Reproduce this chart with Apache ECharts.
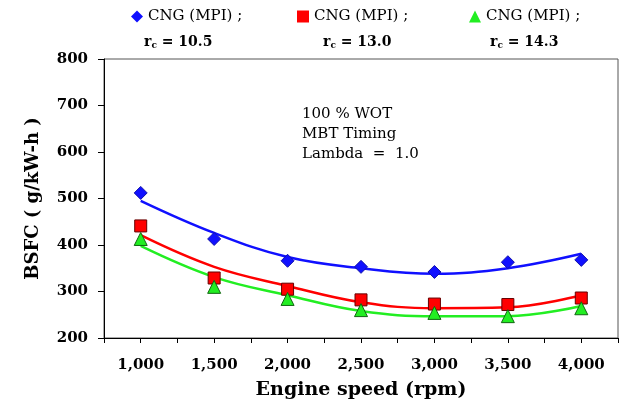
<!DOCTYPE html>
<html>
<head>
<meta charset="utf-8">
<script src="https://cdn.jsdelivr.net/npm/echarts@6/dist/echarts.min.js"></script>
<style>
  html, body { margin: 0; padding: 0; background: #fff; }
  #main { width: 621px; height: 405px; }
</style>
</head>
<body>
<div id="main"></div>
<script>
// engine speed (rpm)
const speeds = [1000, 1500, 2000, 2500, 3000, 3500, 4000]
const seriesNames = ['rc = 10.5', 'rc = 13.0', 'rc = 14.3']
const rcValues = ['10.5', '13.0', '14.3']

// measured BSFC points (g/kW-h)
const bsfc105 = [512, 413, 366, 353, 342, 363, 368]
const bsfc130 = [441, 329, 305, 282, 273, 272, 286]
const bsfc143 = [413, 310, 284, 260, 254, 247, 264]

// trend curves
const trend105 = [495, 426, 374, 350, 338, 350, 381]
const trend130 = [421, 353, 312, 277, 264, 266, 292]
const trend143 = [398, 331, 292, 258, 247, 247, 269]

const notes = ['100 % WOT', 'MBT Timing', 'Lambda  =  1.0']

const colors = ['#1010ff', '#ff0000', '#22ee22']
const symbols = ['diamond', 'rect', 'triangle']
const symbolSizes = [13, 12, 13]
const borders = ['#1010aa', '#660000', '#116611']
const points = [bsfc105, bsfc130, bsfc143]
const trends = [trend105, trend130, trend143]

const serif = 'DejaVu Serif'

const chart = echarts.init(document.getElementById('main'))

const series = []
seriesNames.forEach((name, i) => {
  series.push({
    name: name,
    type: 'line',
    smooth: 0.4,
    showSymbol: false,
    data: speeds.map((s, k) => [s, trends[i][k]]),
    lineStyle: { color: colors[i], width: 2.5 },
    itemStyle: { color: colors[i] },
    z: 2
  })
  series.push({
    name: name,
    type: 'scatter',
    symbol: symbols[i],
    symbolSize: symbolSizes[i],
    data: speeds.map((s, k) => [s, points[i][k]]),
    itemStyle: { color: colors[i], borderColor: borders[i], borderWidth: 1, opacity: 1 },
    z: 3
  })
})

const legendLeft = [126, 292, 464]
const subLeft = [144, 323, 490]

const option = {
  animation: false,
  grid: {
    left: 104,
    right: 3,
    top: 59,
    bottom: 67,
    show: true,
    borderColor: '#555',
    borderWidth: 1
  },
  legend: seriesNames.map((name, i) => ({
    data: [{ name: name, icon: symbols[i] }],
    left: legendLeft[i],
    top: 4,
    itemWidth: 12,
    itemHeight: 12,
    itemGap: 0,
    formatter: () => 'CNG (MPI) ;',
    textStyle: { fontFamily: serif, fontSize: 15, color: '#000' },
    selectedMode: false
  })),
  graphic: rcValues.map((v, i) => ({
    type: 'text',
    left: subLeft[i],
    top: 35,
    style: {
      text: '{r|r}{c|c}{n| = ' + v + '}',
      rich: {
        r: { fontFamily: serif, fontSize: 14, fontWeight: 'bold', fill: '#000' },
        c: { fontFamily: serif, fontSize: 9, fontWeight: 'bold', fill: '#000', padding: [8, 0, 0, 0] },
        n: { fontFamily: serif, fontSize: 14, fontWeight: 'bold', fill: '#000' }
      }
    }
  })).concat([{
    type: 'text',
    left: 302,
    top: 104,
    style: {
      text: notes.join('\n'),
      fontFamily: serif,
      fontSize: 15,
      lineHeight: 20,
      fill: '#000'
    }
  }]),
  xAxis: {
    type: 'value',
    min: 750,
    max: 4250,
    interval: 250,
    name: 'Engine speed (rpm)',
    nameLocation: 'middle',
    nameGap: 43,
    nameTextStyle: { fontFamily: serif, fontSize: 19, fontWeight: 'bold', color: '#000' },
    axisLine: { lineStyle: { color: '#000', width: 1 } },
    axisTick: { show: true, length: 5, lineStyle: { color: '#000' } },
    splitLine: { show: false },
    axisLabel: {
      margin: 20,
      fontFamily: serif,
      fontSize: 15,
      fontWeight: 'bold',
      color: '#000',
      formatter: v => (v % 500 === 0 && v >= 1000 && v <= 4000) ? v.toLocaleString('en-US') : ''
    }
  },
  yAxis: {
    type: 'value',
    min: 200,
    max: 800,
    interval: 100,
    name: 'BSFC ( g/kW-h )',
    nameLocation: 'middle',
    nameGap: 62,
    nameTextStyle: { fontFamily: serif, fontSize: 18, fontWeight: 'bold', color: '#000' },
    axisLine: { show: true, lineStyle: { color: '#000', width: 1 } },
    axisTick: { show: true, length: 6, lineStyle: { color: '#000' } },
    splitLine: { show: false },
    axisLabel: {
      margin: 16,
      fontFamily: serif,
      fontSize: 15,
      fontWeight: 'bold',
      color: '#000'
    }
  },
  series: series
}

chart.setOption(option)
</script>
</body>
</html>
